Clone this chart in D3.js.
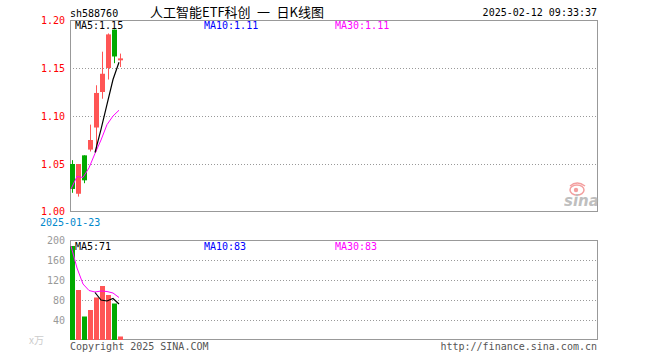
<!DOCTYPE html>
<html>
<head>
<meta charset="utf-8">
<script src="https://cdn.jsdelivr.net/npm/d3@7/dist/d3.min.js"></script>
<style>
  body { margin: 0; background: #fff; }
  text { font-family: "DejaVu Sans Mono", monospace; font-size: 10px; }
</style>
</head>
<body>
<svg></svg>
<script>
// ---- data ----
var dates = ["2025-01-23", "2025-01-24", "2025-01-27", "2025-02-05", "2025-02-06",
             "2025-02-07", "2025-02-10", "2025-02-11", "2025-02-12"];
var openPx  = [1.050, 1.019, 1.059, 1.065, 1.088, 1.125, 1.150, 1.190, 1.158];
var closePx = [1.024, 1.050, 1.033, 1.075, 1.124, 1.144, 1.185, 1.162, 1.160];
var highPx  = [1.054, 1.050, 1.059, 1.091, 1.132, 1.167, 1.186, 1.190, 1.165];
var lowPx   = [1.020, 1.016, 1.030, 1.063, 1.063, 1.118, 1.138, 1.155, 1.151];
var volume  = [188, 100, 47, 60, 85, 108, 90, 73, 7];

var priceMa5  = [null, null, null, null, 1.062, 1.086, 1.112, 1.138, 1.156];
var priceMa30 = [1.024, 1.037, 1.036, 1.046, 1.061, 1.075, 1.091, 1.100, 1.106];
var volMa5    = [null, null, null, null, 95, 80, 78, 83, 72];
var volMa30   = [188, 144, 112, 99, 96, 98, 97, 94, 85];

var priceTicks = [1.00, 1.05, 1.10, 1.15, 1.20];
var volTicks = [40, 80, 120, 160, 200];

var priceLegend = ["MA5:1.15", "MA10:1.11", "MA30:1.11"];
var volLegend = ["MA5:71", "MA10:83", "MA30:83"];
var legendColors = ["#000000", "#0000ff", "#ff00ff"];

var RED = "#ff5555", GREEN = "#00aa00";

var svg = d3.select("svg")
            .attr("width", 660)
            .attr("height", 360);

var left = 70, right = 597;

//scales
var x = d3.scaleLinear().domain([0, 1]).range([left, left + 6]);   // index -> bar left edge
var y = d3.scaleLinear().domain([1.00, 1.20]).range([212, 20]);
var yv = d3.scaleLinear().domain([0, 200]).range([340, 240]);

// ---- header ----
svg.append("text").attr("x", 70).attr("y", 17).text("sh588760");
svg.append("text")
    .attr("x", 150).attr("y", 17)
    .style("white-space", "pre")
    .style("font-family", "'Noto Sans CJK SC', sans-serif")
    .style("font-size", "13px")
    .text("人工智能ETF科创\u2002一\u2002日K线图");
svg.append("text")
    .attr("x", right).attr("y", 16)
    .attr("text-anchor", "end")
    .text("2025-02-12 09:33:37");

// ---- price panel ----
var gp = svg.append("g");

gp.selectAll(".grid")
    .data(priceTicks.filter(function(t) { return t > 1.00 && t < 1.20; }))
    .enter().append("line")
    .attr("x1", left).attr("x2", right)
    .attr("y1", function(d) { return Math.round(y(d)) + 0.5; })
    .attr("y2", function(d) { return Math.round(y(d)) + 0.5; })
    .style("stroke", "#999")
    .style("stroke-dasharray", "1,2");

gp.append("rect")
    .attr("x", left + 0.5).attr("y", 20.5)
    .attr("width", right - left).attr("height", 191)
    .style("fill", "none").style("stroke", "#999");

gp.selectAll(".plabel")
    .data(priceTicks)
    .enter().append("text")
    .attr("x", 65)
    .attr("y", function(d) { return d === 1.00 ? y(d) + 3 : y(d) + 4; })
    .attr("text-anchor", "end")
    .style("fill", "#ff0000")
    .text(function(d) { return d.toFixed(2); });

svg.append("text")
    .attr("x", 40).attr("y", 226)
    .style("fill", "#0088cc")
    .text(dates[0]);

// sina watermark
var logo = svg.append("g").style("opacity", 0.75);
logo.append("ellipse").attr("cx", 577).attr("cy", 190).attr("rx", 7).attr("ry", 5)
    .style("fill", "none").style("stroke", "#f08080").style("stroke-width", 1.5);
logo.append("circle").attr("cx", 576).attr("cy", 190).attr("r", 2.2).style("fill", "#f08080");
logo.append("path").attr("d", "M570,186 Q577,180 585,186").style("fill", "none")
    .style("stroke", "#f08080").style("stroke-width", 1.5);
logo.append("text")
    .attr("x", 564).attr("y", 206)
    .style("font-family", "'DejaVu Sans', sans-serif")
    .style("font-size", "15px").style("font-style", "italic").style("font-weight", "bold")
    .style("fill", "#aaa")
    .text("sina");

// candles
var idx = d3.range(dates.length);
var candle = gp.selectAll(".candle").data(idx).enter().append("g");

candle.append("line")
    .attr("x1", function(i) { return x(i) + 2.5; })
    .attr("x2", function(i) { return x(i) + 2.5; })
    .attr("y1", function(i) { return y(highPx[i]); })
    .attr("y2", function(i) { return y(lowPx[i]); })
    .style("stroke", function(i) { return closePx[i] >= openPx[i] ? RED : GREEN; })
    .style("stroke-width", 1);

candle.append("rect")
    .attr("x", function(i) { return x(i); })
    .attr("width", 5)
    .attr("y", function(i) { return y(Math.max(openPx[i], closePx[i])); })
    .attr("height", function(i) { return Math.max(1, Math.abs(y(openPx[i]) - y(closePx[i]))); })
    .style("fill", function(i) { return closePx[i] >= openPx[i] ? RED : GREEN; });

var priceLine = d3.line()
    .defined(function(d) { return d != null; })
    .x(function(d, i) { return x(i) + 1; })
    .y(function(d) { return y(d); });

gp.append("path").attr("d", priceLine(priceMa30))
    .style("fill", "none").style("stroke", "#ff00ff").style("stroke-width", 1);
gp.append("path").attr("d", priceLine(priceMa5))
    .style("fill", "none").style("stroke", "#000").style("stroke-width", 1.2);

gp.selectAll(".plegend")
    .data(priceLegend)
    .enter().append("text")
    .attr("x", function(d, i) { return [75, 204, 335][i]; })
    .attr("y", 29)
    .style("fill", function(d, i) { return legendColors[i]; })
    .text(function(d) { return d; });

// ---- volume panel ----
var gv = svg.append("g");

gv.selectAll(".vgrid")
    .data(volTicks.filter(function(t) { return t < 200; }))
    .enter().append("line")
    .attr("x1", left).attr("x2", right)
    .attr("y1", function(d) { return Math.round(yv(d)) + 0.5; })
    .attr("y2", function(d) { return Math.round(yv(d)) + 0.5; })
    .style("stroke", "#999")
    .style("stroke-dasharray", "1,2");

gv.append("rect")
    .attr("x", left + 0.5).attr("y", 240.5)
    .attr("width", right - left).attr("height", 99)
    .style("fill", "none").style("stroke", "#999");

gv.selectAll(".vlabel")
    .data(volTicks)
    .enter().append("text")
    .attr("x", 65)
    .attr("y", function(d) { return yv(d) + 4; })
    .attr("text-anchor", "end")
    .style("fill", "#999")
    .text(function(d) { return d; });

gv.append("text")
    .attr("x", 29).attr("y", 344)
    .style("font-family", "'Noto Sans CJK SC', sans-serif")
    .style("fill", "#ccc")
    .text("x万");

gv.selectAll(".vbar").data(idx).enter().append("rect")
    .attr("x", function(i) { return x(i); })
    .attr("width", 5)
    .attr("y", function(i) { return yv(volume[i]); })
    .attr("height", function(i) { return yv(0) - yv(volume[i]); })
    .style("fill", function(i) { return closePx[i] >= openPx[i] ? RED : GREEN; });

var volLine = d3.line()
    .defined(function(d) { return d != null; })
    .x(function(d, i) { return x(i) + 1; })
    .y(function(d) { return yv(d); });

gv.append("path").attr("d", volLine(volMa30))
    .style("fill", "none").style("stroke", "#ff00ff").style("stroke-width", 1);
gv.append("path").attr("d", volLine(volMa5))
    .style("fill", "none").style("stroke", "#000").style("stroke-width", 1.2);

gv.selectAll(".vlegend")
    .data(volLegend)
    .enter().append("text")
    .attr("x", function(d, i) { return [75, 204, 335][i]; })
    .attr("y", 250)
    .style("fill", function(d, i) { return legendColors[i]; })
    .text(function(d) { return d; });

// ---- footer ----
svg.append("text").attr("x", 70).attr("y", 350).style("fill", "#555").text("Copyright 2025 SINA.COM");
svg.append("text").attr("x", right).attr("y", 350).attr("text-anchor", "end")
    .style("fill", "#555").text("http://finance.sina.com.cn");
</script>
</body>
</html>
